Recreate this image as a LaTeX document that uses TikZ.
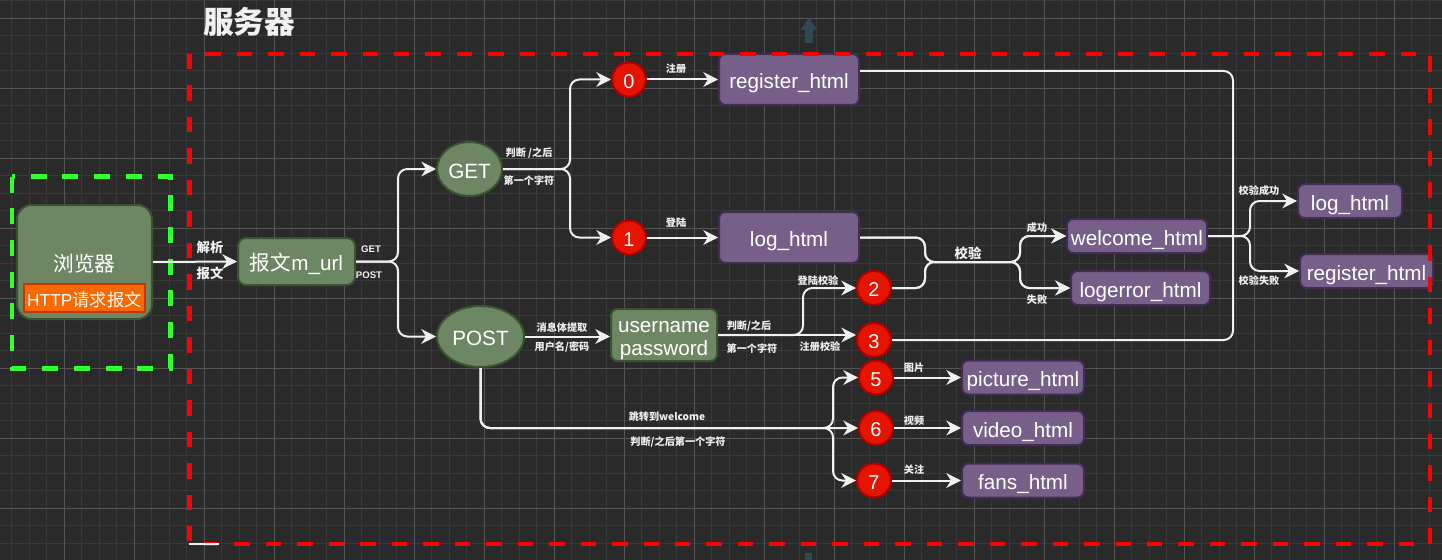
\documentclass[tikz,border=0pt]{standalone}
\usepackage{fontspec}
\setmainfont{Liberation Sans}
\newfontfamily\cjk{Noto Sans CJK SC}
\usetikzlibrary{arrows.meta,shapes.geometric}
\definecolor{bgc}{HTML}{2A2A2A}
\definecolor{minorc}{HTML}{383838}
\definecolor{majorc}{HTML}{555555}
\definecolor{linec}{HTML}{F0F0F0}
\definecolor{gfill}{HTML}{6D8764}
\definecolor{gstroke}{HTML}{3A5431}
\definecolor{pfill}{HTML}{76608A}
\definecolor{pstroke}{HTML}{432D57}
\definecolor{rfill}{HTML}{E51400}
\definecolor{rstroke}{HTML}{B20000}
\definecolor{ofill}{HTML}{FA6800}
\definecolor{ostroke}{HTML}{C73500}
\definecolor{redd}{HTML}{FF0000}
\definecolor{greend}{HTML}{33FF33}
\definecolor{artc}{HTML}{2F4855}
\begin{document}
\begin{tikzpicture}[x=0.75pt,y=-0.75pt,
  conn/.style={draw=linec, line width=1.5pt, rounded corners=7pt},
  arr/.style={-{Stealth[length=11pt,width=11pt,inset=3.5pt]}},
  gbox/.style={draw=gstroke, fill=gfill, line width=1.5pt, inner sep=0pt, text=white,
    font=\fontsize{15.5}{18}\selectfont, text height=13.5pt, text depth=0pt},
  pbox/.style={draw=pstroke, fill=pfill, line width=1.5pt, rounded corners=5pt, inner sep=0pt,
    text=white, font=\fontsize{15.5}{18}\selectfont, text height=13.5pt, text depth=0pt},
  rc/.style={circle, draw=rstroke, fill=rfill, line width=1.5pt, minimum size=25.5pt, inner sep=0pt,
    text=white, font=\fontsize{15}{18}\selectfont, text height=13pt, text depth=0pt},
  lab/.style={text=linec, inner sep=0pt, font=\cjk\bfseries\fontsize{7.6}{9}\selectfont},
  labbig/.style={text=linec, inner sep=0pt, font=\cjk\bfseries\fontsize{10}{12}\selectfont},
  labsm/.style={text=linec, inner sep=0pt, font=\bfseries\fontsize{7.2}{9}\selectfont},
  minorl/.style={draw=minorc, line width=0.75pt},
  majorl/.style={draw=majorc, line width=0.75pt},
  reddash/.style={draw=redd, line width=3.6pt, dash pattern=on 11.6pt off 12pt},
  greendash/.style={draw=greend, line width=3.6pt, dash pattern=on 12pt off 11.8pt}
]
% background and grid
\useasboundingbox (0,0) rectangle (1442,560);
\fill[bgc] (0,0) rectangle (1442,560);
\foreach \i in {0,...,82} {\draw[minorl] ({11.8+17.5*\i},0) -- ({11.8+17.5*\i},560);}
\foreach \i in {0,...,32} {\draw[minorl] (0,{0.8+17.5*\i}) -- (1442,{0.8+17.5*\i});}
\foreach \i in {0,...,20} {\draw[majorl] ({64.3+70*\i},0) -- ({64.3+70*\i},560);}
\foreach \i in {0,...,7} {\draw[majorl] (0,{18.3+70*\i}) -- (1442,{18.3+70*\i});}

% faint artefacts
\fill[artc] (809,18) -- (817.5,30) -- (813,30) -- (813,43) -- (805,43) -- (805,30) -- (800.5,30) -- cycle;
\fill[artc] (805,553) rectangle (812,560);

% title
\node[text=linec, font=\cjk\bfseries\fontsize{23}{26}\selectfont, inner sep=0pt] (title) at (249,22) {服务器};

% green container
\draw[greendash] (12,176.5) rectangle (170.5,368.5);

% nodes
\node[gbox, rounded corners=11pt, minimum width=101.25pt, minimum height=85.5pt, font=\cjk\fontsize{15.5}{18}\selectfont] (browser) at (84.5,262) {浏览器};
\node[draw=ostroke, fill=ofill, line width=1.2pt, inner sep=0pt, minimum width=90.75pt, minimum height=21pt,
  text=white, font=\fontsize{13}{15}\selectfont, text height=12pt, text depth=0pt] (http) at (84.5,298) {HTTP{\cjk 请求报文}};
\node[gbox, rounded corners=6pt, minimum width=87.75pt, minimum height=35.25pt] (msg) at (296.5,261.5) {{\cjk 报文}m\_url};
\node[gbox, ellipse, minimum width=48.75pt, minimum height=40.5pt] (GET) at (469.5,169) {GET};
\node[gbox, ellipse, minimum width=65.25pt, minimum height=45.75pt] (POST) at (480.5,336.5) {POST};
\node[rc] (c0) at (629,79.5) {0};
\node[rc] (c1) at (629,237.5) {1};
\node[rc] (c2) at (874,288) {2};
\node[rc] (c3) at (874,340) {3};
\node[rc] (c5) at (876,377.5) {5};
\node[rc] (c6) at (876,428) {6};
\node[rc] (c7) at (874,480.5) {7};
\node[pbox, minimum width=105pt, minimum height=38.25pt] (reg1) at (789,79.5) {register\_html};
\node[pbox, minimum width=105pt, minimum height=38.25pt] (log1) at (789,237.5) {log\_html};
\node[gbox, rounded corners=5pt, minimum width=79.5pt, minimum height=39pt] (user) at (664,335) {};
\node[text=white, font=\fontsize{15.5}{18}\selectfont, inner sep=0pt, anchor=base] (usert1) at (664,332) {username};
\node[text=white, font=\fontsize{15.5}{18}\selectfont, inner sep=0pt, anchor=base] (usert2) at (664,355.5) {password};
\node[pbox, minimum width=105pt, minimum height=25.5pt] (welcome) at (1137,236) {welcome\_html};
\node[pbox, minimum width=104.25pt, minimum height=25.5pt] (logerror) at (1140.5,288) {logerror\_html};
\node[pbox, minimum width=78pt, minimum height=25.5pt] (log2) at (1350,201) {log\_html};
\node[pbox, minimum width=99.75pt, minimum height=25.5pt] (reg2) at (1366.5,271) {register\_html};
\node[pbox, minimum width=91.5pt, minimum height=25.5pt] (picture) at (1023,377.5) {picture\_html};
\node[pbox, minimum width=91.5pt, minimum height=25.5pt] (video) at (1023,428) {video\_html};
\node[pbox, minimum width=91.5pt, minimum height=25.5pt] (fans) at (1023,480.5) {fans\_html};

% junction coordinates
\coordinate (jL) at (925,262);
\coordinate (jR) at (1020,262);
\coordinate (jW) at (1250,236);
\coordinate (jC) at (1233,340);
\coordinate (jT) at (1233,71);
\coordinate (jP) at (833,428);
\coordinate (jU) at (803,335);

% connectors
\draw[conn,arr] (browser.east) -- (msg.west);
\draw[conn,arr] (msg.east) -- ++(42,0) |- (GET.west);
\draw[conn,arr] (msg.east) -- ++(42,0) |- (POST.west);
\draw[conn,arr] (GET.east) -- ++(67,0) |- (c0.west);
\draw[conn,arr] (GET.east) -- ++(67,0) |- (c1.west);
\draw[conn,arr] (c0.east) -- (reg1.west);
\draw[conn,arr] (c1.east) -- (log1.west);
\draw[conn,arr] (POST.east) -- (POST.east -| user.west);
\draw[conn,arr] (user.east) -- (jU) |- (c2.west);
\draw[conn,arr] (user.east) -- (user.east -| c3.west);
\draw[conn,arr] (log1.east) -| (jL) -- (jR) |- (welcome.west);
\draw[conn,arr] (log1.east) -| (jL) -- (jR) |- (logerror.west);
\draw[conn,arr] (c2.east) -| (jL) -- (jR) |- (welcome.west);
\draw[conn,arr] (c2.east) -| (jL) -- (jR) |- (logerror.west);
\draw[conn,arr] (welcome.east) -- (jW) |- (log2.west);
\draw[conn,arr] (welcome.east) -- (jW) |- (reg2.west);
\draw[conn] (c3.east) -- (jC) -- (jT) -- (reg1.east |- jT);
\draw[conn,arr] (POST.south) |- (jP) |- (c5.west);
\draw[conn,arr] (POST.south) |- (c6.west);
\draw[conn,arr] (POST.south) |- (jP) |- (c7.west);
\draw[conn,arr] (c5.east) -- (picture.west);
\draw[conn,arr] (c6.east) -- (video.west);
\draw[conn,arr] (c7.east) -- (fans.west);

% labels
\node[labbig] (l1) at (210,247) {解析};
\node[labbig] (l2) at (210,273) {报文};
\node[labsm] (l3) at (371,249) {GET};
\node[labsm] (l4) at (369,275) {POST};
\node[lab] (l5) at (529,153) {判断 /之后};
\node[lab] (l6) at (529,181) {第一个字符};
\node[lab] (l7) at (676,69) {注册};
\node[lab] (l8) at (676,223) {登陆};
\node[lab] (l9) at (562,328) {消息体提取};
\node[lab] (l10) at (562,347) {用户名/密码};
\node[lab] (l11) at (749,326) {判断/之后};
\node[lab] (l12) at (752,349) {第一个字符};
\node[lab] (l13) at (818,281) {登陆校验};
\node[lab] (l14) at (820,347) {注册校验};
\node[labbig] (l15) at (968,253) {校验};
\node[lab] (l16) at (1037,228) {成功};
\node[lab] (l17) at (1037,300) {失败};
\node[lab] (l18) at (1259,191) {校验成功};
\node[lab] (l19) at (1259,281) {校验失败};
\node[lab] (l20) at (667,417) {跳转到welcome};
\node[lab] (l21) at (678,442) {判断/之后第一个字符};
\node[lab] (l22) at (914,368) {图片};
\node[lab] (l23) at (914,421) {视频};
\node[lab] (l24) at (914,470) {关注};

% red container (drawn on top)
\draw[reddash] (189.5,54) rectangle (1430,544);
\coordinate (s1) at (189,544);
\coordinate (s2) at (219,544);
\draw[linec, line width=1.5pt] (s1) -- (s2);
\end{tikzpicture}
\end{document}
